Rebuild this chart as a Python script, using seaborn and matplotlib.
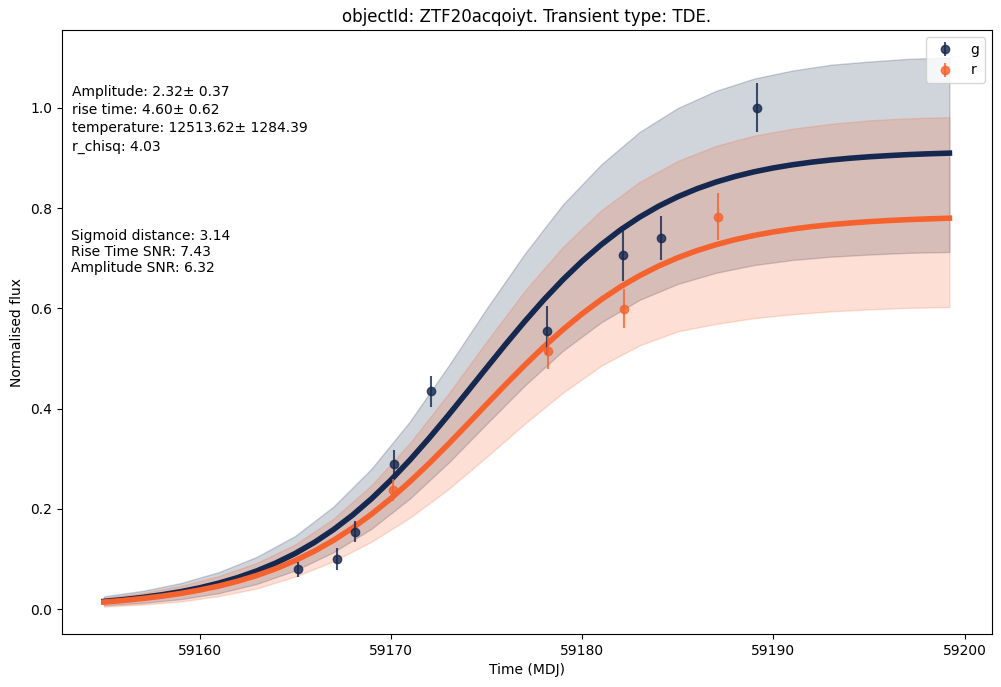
import numpy as np
import pandas as pd
import matplotlib
matplotlib.use('Agg')
import matplotlib.pyplot as plt
import seaborn as sns

# fitted curves, one value per day
t_line = list(range(59155, 59199)) + [59199.2]
g_line = [0.0155, 0.019, 0.0233, 0.0285, 0.0348, 0.0425, 0.0518, 0.063, 0.0764, 0.0923,
          0.1111, 0.1331, 0.1586, 0.1877, 0.2207, 0.2575, 0.2977, 0.341, 0.3866, 0.4337,
          0.4813, 0.5284, 0.574, 0.6173, 0.6575, 0.6942, 0.7272, 0.7565, 0.7819, 0.8039,
          0.8227, 0.8386, 0.852, 0.8632, 0.8725, 0.8802, 0.8865, 0.8917, 0.896, 0.8995,
          0.9024, 0.9047, 0.9067, 0.9082, 0.9097]
r_line = [0.0141, 0.0172, 0.0211, 0.0257, 0.0312, 0.038, 0.046, 0.0558, 0.0673, 0.0809,
          0.097, 0.1157, 0.1373, 0.162, 0.1898, 0.2207, 0.2545, 0.2907, 0.329, 0.3685,
          0.4085, 0.4482, 0.4867, 0.5235, 0.5578, 0.5892, 0.6177, 0.643, 0.6652, 0.6845,
          0.7011, 0.7152, 0.7271, 0.7372, 0.7456, 0.7525, 0.7583, 0.7631, 0.7671, 0.7703,
          0.773, 0.7752, 0.777, 0.7784, 0.7799]

# uncertainty bands, every 2 days
t_band = [59155, 59157, 59159, 59161, 59163, 59165, 59167, 59169, 59171, 59173, 59175, 59177,
          59179, 59181, 59183, 59185, 59187, 59189, 59191, 59193, 59195, 59197, 59199.2]
g_up = [0.0255, 0.0363, 0.0518, 0.0738, 0.1044, 0.1461, 0.2046, 0.2807, 0.3747, 0.4846, 0.5993, 0.709,
        0.8075, 0.8872, 0.9519, 0.9997, 1.034, 1.0585, 1.0745, 1.086, 1.0924, 1.0977, 1.1005]
g_low = [0.0075, 0.0123, 0.0198, 0.0318, 0.0504, 0.0771, 0.1136, 0.1607, 0.2207, 0.2916, 0.3693, 0.446,
         0.5155, 0.5722, 0.6169, 0.6487, 0.671, 0.6865, 0.6965, 0.703, 0.7074, 0.7107, 0.7125]
r_up = [0.0221, 0.0321, 0.0462, 0.066, 0.0923, 0.129, 0.1803, 0.2478, 0.3315, 0.429, 0.5335, 0.6347,
        0.7228, 0.7957, 0.8522, 0.8941, 0.9241, 0.9446, 0.9583, 0.9681, 0.975, 0.979, 0.9816]
r_low = [0.0051, 0.0091, 0.0152, 0.026, 0.0413, 0.065, 0.0953, 0.1348, 0.1825, 0.239, 0.3035, 0.3697,
         0.4318, 0.4857, 0.5262, 0.5541, 0.5691, 0.5806, 0.5883, 0.5941, 0.598, 0.601, 0.6026]

# observations
g_t = [59165.16, 59167.18, 59168.14, 59170.15, 59172.12, 59178.15, 59182.16, 59184.12, 59189.12]
g_flux = [0.080, 0.100, 0.154, 0.289, 0.435, 0.555, 0.706, 0.741, 1.000]
g_err = [0.015, 0.022, 0.021, 0.028, 0.031, 0.049, 0.051, 0.044, 0.049]
r_t = [59170.12, 59178.23, 59182.2, 59187.1]
r_flux = [0.238, 0.514, 0.599, 0.783]
r_err = [0.022, 0.035, 0.039, 0.047]

g_col = '#15284F'
r_col = '#F5622E'

fit = pd.DataFrame({'t': t_line, 'g': g_line, 'r': r_line})

fig, ax = plt.subplots(figsize=(10.01, 6.87), dpi=100)
plt.subplots_adjust(left=0.0616, right=0.9907, bottom=0.0771, top=0.9563)

ax.fill_between(t_band, g_low, g_up, color=g_col, alpha=0.2)
ax.fill_between(t_band, r_low, r_up, color=r_col, alpha=0.2)
sns.lineplot(data=fit, x='t', y='g', color=g_col, linewidth=4, ax=ax)
sns.lineplot(data=fit, x='t', y='r', color=r_col, linewidth=4, ax=ax)

ax.errorbar(g_t, g_flux, yerr=g_err, fmt='o', color=g_col, alpha=0.8, label='g', zorder=4)
ax.errorbar(r_t, r_flux, yerr=r_err, fmt='o', color=r_col, alpha=0.8, label='r', zorder=4)

ax.text(0.011, 0.909, 'Amplitude: 2.32± 0.37\nrise time: 4.60± 0.62\ntemperature: 12513.62± 1284.39\nr_chisq: 4.03',
        transform=ax.transAxes, va='top', ha='left', fontsize=10, linespacing=1.38)
ax.text(0.010, 0.671, 'Sigmoid distance: 3.14\nRise Time SNR: 7.43\nAmplitude SNR: 6.32',
        transform=ax.transAxes, va='top', ha='left', fontsize=10)

ax.set_title('objectId: ZTF20acqoiyt. Transient type: TDE.')
ax.set_xlabel('Time (MDJ)')
ax.set_ylabel('Normalised flux')
ax.legend(loc='upper right')

plt.savefig('out.png', dpi=100)
